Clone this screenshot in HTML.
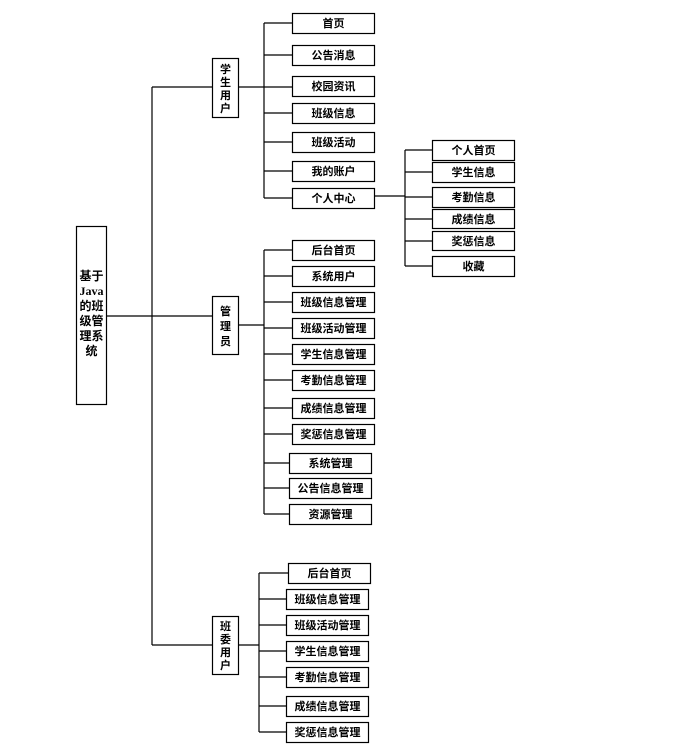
<!DOCTYPE html>
<html><head><meta charset="utf-8"><style>
body{margin:0;background:#fff}
svg text{font-family:"Liberation Serif","Noto Sans CJK SC",sans-serif;font-size:11px;font-weight:bold;fill:#000}
</style></head><body>
<svg width="674" height="745" xmlns="http://www.w3.org/2000/svg">
<g stroke="#000" stroke-width="1.2" fill="none">
<rect x="76.5" y="226.5" width="30" height="178"/>
<line x1="106" y1="316" x2="212" y2="316"/>
<line x1="152" y1="87" x2="152" y2="645"/>
<line x1="152" y1="87" x2="212" y2="87"/>
<line x1="152" y1="645" x2="212" y2="645"/>
<rect x="212.5" y="58.5" width="26" height="59"/>
<line x1="238" y1="87" x2="264" y2="87"/>
<line x1="264" y1="23" x2="264" y2="198"/>
<line x1="264" y1="23" x2="292" y2="23"/>
<line x1="264" y1="55" x2="292" y2="55"/>
<line x1="264" y1="87" x2="292" y2="87"/>
<line x1="264" y1="113" x2="292" y2="113"/>
<line x1="264" y1="142" x2="292" y2="142"/>
<line x1="264" y1="171" x2="292" y2="171"/>
<line x1="264" y1="198" x2="292" y2="198"/>
<rect x="292.5" y="13.5" width="82" height="20"/>
<rect x="292.5" y="45.5" width="82" height="20"/>
<rect x="292.5" y="76.5" width="82" height="20"/>
<rect x="292.5" y="103.5" width="82" height="20"/>
<rect x="292.5" y="132.5" width="82" height="20"/>
<rect x="292.5" y="161.5" width="82" height="20"/>
<rect x="292.5" y="188.5" width="82" height="20"/>
<line x1="374" y1="196" x2="405" y2="196"/>
<line x1="405" y1="150" x2="405" y2="266"/>
<line x1="405" y1="150" x2="432" y2="150"/>
<line x1="405" y1="172" x2="432" y2="172"/>
<line x1="405" y1="197" x2="432" y2="197"/>
<line x1="405" y1="219" x2="432" y2="219"/>
<line x1="405" y1="241" x2="432" y2="241"/>
<line x1="405" y1="266" x2="432" y2="266"/>
<rect x="432.5" y="140.5" width="82" height="20"/>
<rect x="432.5" y="162.5" width="82" height="20"/>
<rect x="432.5" y="187.5" width="82" height="20"/>
<rect x="432.5" y="209.5" width="82" height="19"/>
<rect x="432.5" y="231.5" width="82" height="19"/>
<rect x="432.5" y="256.5" width="82" height="20"/>
<rect x="212.5" y="296.5" width="26" height="58"/>
<line x1="238" y1="325" x2="264" y2="325"/>
<line x1="264" y1="250" x2="264" y2="514"/>
<line x1="264" y1="250" x2="292" y2="250"/>
<line x1="264" y1="276" x2="292" y2="276"/>
<line x1="264" y1="302" x2="292" y2="302"/>
<line x1="264" y1="328" x2="292" y2="328"/>
<line x1="264" y1="354" x2="292" y2="354"/>
<line x1="264" y1="380" x2="292" y2="380"/>
<line x1="264" y1="408" x2="292" y2="408"/>
<line x1="264" y1="434" x2="292" y2="434"/>
<line x1="264" y1="463" x2="289" y2="463"/>
<line x1="264" y1="488" x2="289" y2="488"/>
<line x1="264" y1="514" x2="289" y2="514"/>
<rect x="292.5" y="240.5" width="82" height="20"/>
<rect x="292.5" y="266.5" width="82" height="20"/>
<rect x="292.5" y="292.5" width="82" height="20"/>
<rect x="292.5" y="318.5" width="82" height="20"/>
<rect x="292.5" y="344.5" width="82" height="20"/>
<rect x="292.5" y="370.5" width="82" height="20"/>
<rect x="292.5" y="398.5" width="82" height="20"/>
<rect x="292.5" y="424.5" width="82" height="20"/>
<rect x="289.5" y="453.5" width="82" height="20"/>
<rect x="289.5" y="478.5" width="82" height="20"/>
<rect x="289.5" y="504.5" width="82" height="20"/>
<rect x="212.5" y="616.5" width="26" height="58"/>
<line x1="238" y1="645" x2="259" y2="645"/>
<line x1="259" y1="573" x2="259" y2="732"/>
<line x1="259" y1="573" x2="288" y2="573"/>
<line x1="259" y1="599" x2="286" y2="599"/>
<line x1="259" y1="625" x2="286" y2="625"/>
<line x1="259" y1="651" x2="286" y2="651"/>
<line x1="259" y1="677" x2="286" y2="677"/>
<line x1="259" y1="706" x2="286" y2="706"/>
<line x1="259" y1="732" x2="286" y2="732"/>
<rect x="288.5" y="563.5" width="82" height="20"/>
<rect x="286.5" y="589.5" width="82" height="20"/>
<rect x="286.5" y="615.5" width="82" height="20"/>
<rect x="286.5" y="641.5" width="82" height="20"/>
<rect x="286.5" y="667.5" width="82" height="20"/>
<rect x="286.5" y="696.5" width="82" height="20"/>
<rect x="286.5" y="722.5" width="82" height="20"/>
</g>
<g text-anchor="middle">
<text x="91.5" y="280" style="font-size:12px">基于</text>
<text x="91.5" y="295" style="font-size:12px">Java</text>
<text x="91.5" y="310" style="font-size:12px">的班</text>
<text x="91.5" y="325" style="font-size:12px">级管</text>
<text x="91.5" y="340" style="font-size:12px">理系</text>
<text x="91.5" y="355" style="font-size:12px">统</text>
<text x="225.5" y="73">学</text><text x="225.5" y="86">生</text><text x="225.5" y="99">用</text><text x="225.5" y="112">户</text>
<text x="225.5" y="315">管</text><text x="225.5" y="330">理</text><text x="225.5" y="345">员</text>
<text x="225.5" y="630">班</text><text x="225.5" y="643">委</text><text x="225.5" y="656">用</text><text x="225.5" y="669">户</text>
<text x="333.5" y="27">首页</text>
<text x="333.5" y="59">公告消息</text>
<text x="333.5" y="90">校园资讯</text>
<text x="333.5" y="117">班级信息</text>
<text x="333.5" y="146">班级活动</text>
<text x="333.5" y="175">我的账户</text>
<text x="333.5" y="202">个人中心</text>
<text x="473.5" y="154">个人首页</text>
<text x="473.5" y="176">学生信息</text>
<text x="473.5" y="201">考勤信息</text>
<text x="473.5" y="223">成绩信息</text>
<text x="473.5" y="245">奖惩信息</text>
<text x="473.5" y="270">收藏</text>
<text x="333.5" y="254">后台首页</text>
<text x="333.5" y="280">系统用户</text>
<text x="333.5" y="306">班级信息管理</text>
<text x="333.5" y="332">班级活动管理</text>
<text x="333.5" y="358">学生信息管理</text>
<text x="333.5" y="384">考勤信息管理</text>
<text x="333.5" y="412">成绩信息管理</text>
<text x="333.5" y="438">奖惩信息管理</text>
<text x="330.5" y="467">系统管理</text>
<text x="330.5" y="492">公告信息管理</text>
<text x="330.5" y="518">资源管理</text>
<text x="329.5" y="577">后台首页</text>
<text x="327.5" y="603">班级信息管理</text>
<text x="327.5" y="629">班级活动管理</text>
<text x="327.5" y="655">学生信息管理</text>
<text x="327.5" y="681">考勤信息管理</text>
<text x="327.5" y="710">成绩信息管理</text>
<text x="327.5" y="736">奖惩信息管理</text>
</g>
</svg>
</body></html>
